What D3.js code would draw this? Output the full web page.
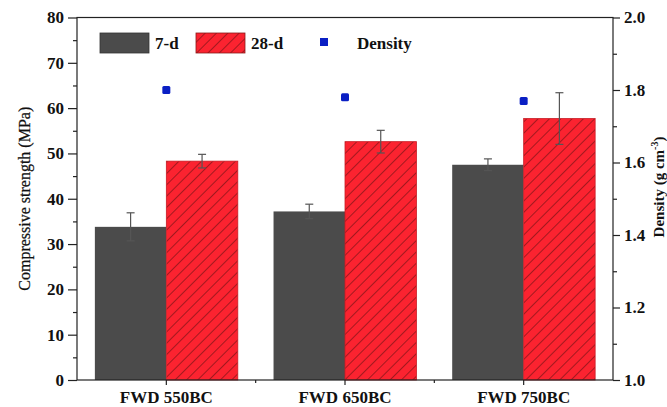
<!DOCTYPE html>
<html>
<head>
<meta charset="utf-8">
<script src="https://cdn.jsdelivr.net/npm/d3@7"></script>
<style>
  body { margin: 0; background: #fff; }
  text { font-family: "Liberation Serif", "Times New Roman", serif; }
</style>
</head>
<body>
<script>
let width = 667;
let height = 407;

// data
let categories = ['FWD 550BC', 'FWD 650BC', 'FWD 750BC'];
let strength7 = [33.8, 37.2, 47.5];
let err7 = [3.1, 1.6, 1.3];
let strength28 = [48.3, 52.6, 57.7];
let err28 = [1.5, 2.5, 5.7];
let density = [1.80, 1.78, 1.77];
let leftTicks = [0, 10, 20, 30, 40, 50, 60, 70, 80];
let rightTicks = [1.0, 1.2, 1.4, 1.6, 1.8, 2.0];

let margin = {left: 77, right: 54, top: 17.5, bottom: 27};
let x0 = margin.left, x1 = width - margin.right;
let yTop = margin.top, yBot = height - margin.bottom;

let svg = d3.select('body').append('svg')
  .attr('width', width).attr('height', height);

let defs = svg.append('defs');
let pat = defs.append('pattern')
  .attr('id', 'hatch').attr('patternUnits', 'userSpaceOnUse')
  .attr('width', 8).attr('height', 8)
  .attr('patternTransform', 'rotate(45)');
pat.append('rect').attr('width', 8).attr('height', 8).attr('fill', '#fb2330');
pat.append('line').attr('x1', 0).attr('y1', 0).attr('x2', 0).attr('y2', 8)
  .attr('stroke', '#5a1010').attr('stroke-width', 1.1);

let x = d3.scaleBand().domain(categories).range([x0, x1])
  .paddingInner(0.2).paddingOuter(0.1);
let xSub = d3.scaleBand().domain(['7', '28']).range([0, x.bandwidth()]);
let y = d3.scaleLinear().domain([0, 80]).range([yBot, yTop]);
let yR = d3.scaleLinear().domain([1.0, 2.0]).range([yBot, yTop]);

let series = [
  {key: '7', vals: strength7, errs: err7, fill: '#4b4b4b'},
  {key: '28', vals: strength28, errs: err28, fill: 'url(#hatch)'}
];

for (let s of series) {
  let g = svg.append('g');
  g.selectAll('rect').data(categories).enter().append('rect')
    .attr('x', (c) => x(c) + xSub(s.key))
    .attr('y', (c, i) => y(s.vals[i]))
    .attr('width', xSub.bandwidth())
    .attr('height', (c, i) => y(0) - y(s.vals[i]))
    .attr('fill', s.fill)
    .attr('stroke', s.key === '28' ? '#c81c24' : 'none')
    .attr('stroke-width', 0.8);

  let eb = g.selectAll('.err').data(categories).enter().append('g')
    .attr('stroke', '#555').attr('stroke-width', 1.2);
  let cx = (c) => x(c) + xSub(s.key) + xSub.bandwidth() / 2;
  eb.append('line').attr('x1', cx).attr('x2', cx)
    .attr('y1', (c, i) => y(s.vals[i] + s.errs[i]))
    .attr('y2', (c, i) => y(s.vals[i] - s.errs[i]));
  for (let sign of [1, -1]) {
    eb.append('line')
      .attr('x1', (c) => cx(c) - 4).attr('x2', (c) => cx(c) + 4)
      .attr('y1', (c, i) => y(s.vals[i] + sign * s.errs[i]))
      .attr('y2', (c, i) => y(s.vals[i] + sign * s.errs[i]));
  }
}

// density points
svg.append('g').selectAll('rect').data(categories).enter().append('rect')
  .attr('x', (c) => x(c) + x.bandwidth() / 2 - 4)
  .attr('y', (c, i) => yR(density[i]) - 4)
  .attr('width', 8).attr('height', 8)
  .attr('rx', 1.5)
  .attr('fill', '#0a1fc4');

// axes
let frame = svg.append('g').attr('stroke', '#222').attr('stroke-width', 1.2).attr('fill', 'none');
frame.append('rect').attr('x', x0).attr('y', yTop).attr('width', x1 - x0).attr('height', yBot - yTop);

svg.append('g').attr('transform', `translate(${x0},0)`)
  .call(d3.axisLeft(y).tickValues(leftTicks).tickSize(9).tickPadding(4));
svg.append('g').attr('transform', `translate(${x0},0)`)
  .call(d3.axisLeft(y).tickValues(d3.range(5, 80, 10)).tickSize(4).tickFormat(''));

svg.append('g').attr('transform', `translate(${x1},0)`)
  .call(d3.axisRight(yR).tickValues(rightTicks).tickSize(7).tickPadding(4).tickFormat(d3.format('.1f')));
svg.append('g').attr('transform', `translate(${x1},0)`)
  .call(d3.axisRight(yR).tickValues([1.1, 1.3, 1.5, 1.7, 1.9]).tickSize(4).tickFormat(''));

let bottomAxis = svg.append('g').attr('transform', `translate(0,${yBot})`)
  .call(d3.axisBottom(x).tickSize(5).tickPadding(8));
let midTicks = categories.slice(1).map((c) => x(c) - x.step() * x.paddingInner() / 2);
svg.append('g').selectAll('line').data(midTicks).enter().append('line')
  .attr('x1', (d) => d).attr('x2', (d) => d)
  .attr('y1', yBot).attr('y2', yBot + 3)
  .attr('stroke', '#222').attr('stroke-width', 1.2);

svg.selectAll('.domain').remove();
svg.selectAll('.tick line').attr('stroke', '#222').attr('stroke-width', 1.2);
svg.selectAll('.tick text')
  .attr('font-family', '"Liberation Serif", serif')
  .attr('font-weight', 'bold').attr('font-size', 17).attr('fill', '#111');
bottomAxis.selectAll('.tick text').attr('font-size', 17).attr('dy', '0.6em');

// axis titles
svg.append('text')
  .attr('transform', `translate(30,${(yTop + yBot) / 2}) rotate(-90)`)
  .attr('text-anchor', 'middle').attr('font-size', 16).attr('fill', '#111')
  .attr('stroke', '#111').attr('stroke-width', 0.25)
  .text('Compressive strength (MPa)');

let rt = svg.append('text')
  .attr('transform', `translate(664,187) rotate(-90)`)
  .attr('text-anchor', 'middle').attr('font-size', 15).attr('font-weight', 'bold').attr('fill', '#111');
rt.append('tspan').text('Density (g cm');
rt.append('tspan').attr('dy', -6).attr('font-size', 10).text('-3');
rt.append('tspan').attr('dy', 6).text(')');

// legend
let legend = svg.append('g').attr('font-weight', 'bold').attr('font-size', 17).attr('fill', '#111');
legend.append('rect').attr('x', 100).attr('y', 33).attr('width', 49).attr('height', 20)
  .attr('fill', '#4b4b4b').attr('stroke', '#333').attr('stroke-width', 0.8);
legend.append('text').attr('x', 155).attr('y', 49).text('7-d');
legend.append('rect').attr('x', 196).attr('y', 33).attr('width', 49).attr('height', 20)
  .attr('fill', 'url(#hatch)').attr('stroke', '#8a1a1a').attr('stroke-width', 0.8);
legend.append('text').attr('x', 251).attr('y', 49).text('28-d');
legend.append('rect').attr('x', 320).attr('y', 38).attr('width', 8).attr('height', 8)
  .attr('fill', '#0a1fc4');
legend.append('text').attr('x', 357).attr('y', 49).text('Density');
</script>
</body>
</html>
